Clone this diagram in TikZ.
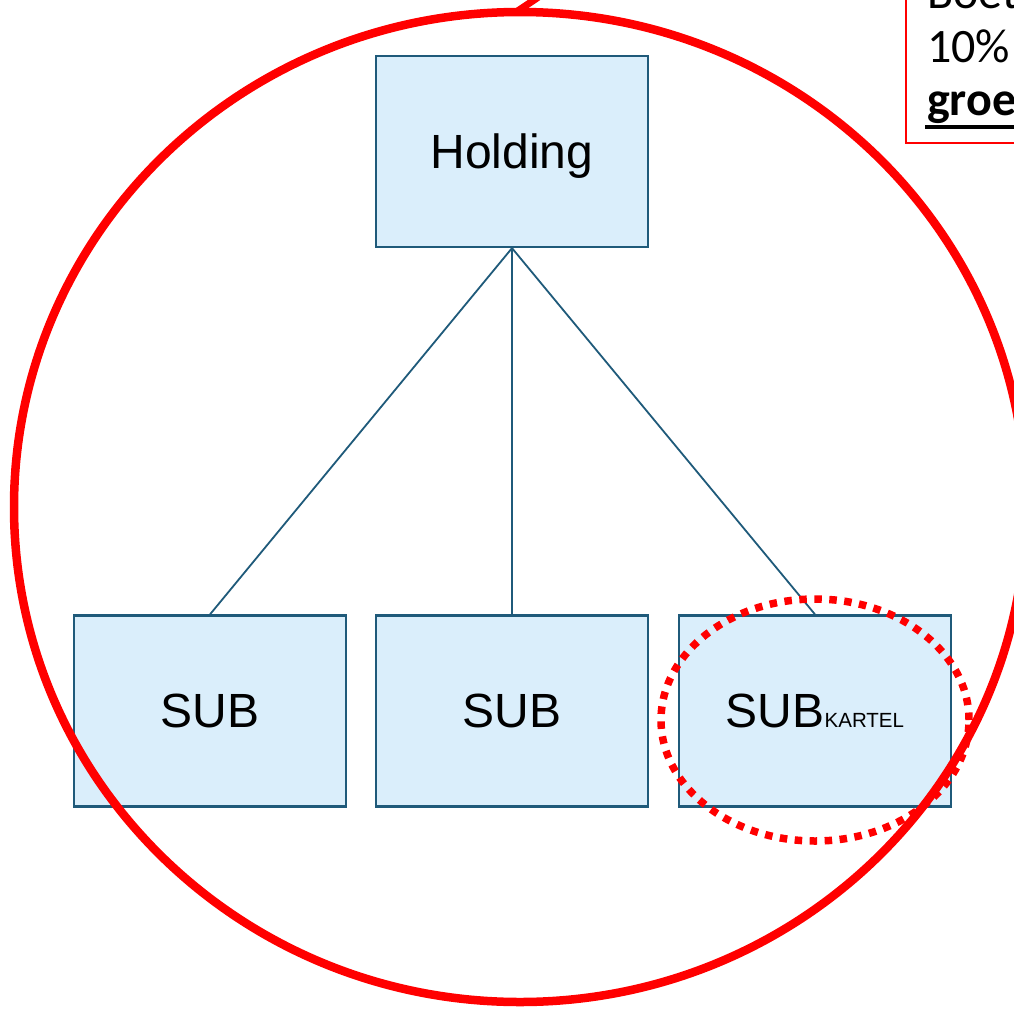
\documentclass[tikz,border=0pt]{standalone}
\usepackage{fontspec}
\usetikzlibrary{shapes.geometric}
\setmainfont{Liberation Sans}
\newfontfamily\calib{Carlito}
\definecolor{boxfill}{HTML}{DAEEFB}
\definecolor{boxline}{HTML}{1F5A7A}
\definecolor{redc}{HTML}{FF0000}
\begin{document}
\begin{tikzpicture}[x=1pt,y=-1pt,
  orgbox/.style={draw=boxline,fill=boxfill,line width=2.2pt,minimum width=272pt,minimum height=191pt,inner sep=0pt,text depth=0pt,font=\fontsize{48}{56}\selectfont},
  tie/.style={draw=boxline,line width=1.8pt},
  bigring/.style={draw=redc,line width=8.5pt},
  dotring/.style={draw=redc,line width=7.5pt,dash pattern=on 7.5pt off 7.5pt},
  note/.style={font=\calib\fontsize{48}{58}\selectfont,anchor=base west,inner sep=0pt}]
\useasboundingbox (0,0) rectangle (1014,1009);
\begin{scope}
\clip (0,0) rectangle (1014,1009);
% boxes
\node[orgbox] (hold) at (512,151.5) {Holding};
\node[orgbox] (s1) at (210,711) {SUB};
\node[orgbox] (s2) at (512,711) {SUB};
\node[orgbox] (s3) at (815,711) {SUB{\fontsize{20.5}{24}\selectfont KARTEL}};
% connectors
\draw[tie] (hold.south) -- (s1.north);
\draw[tie] (hold.south) -- (s2.north);
\draw[tie] (hold.south) -- (s3.north);
% big red ring
\node[bigring,ellipse,minimum width=1012pt,minimum height=990pt,inner sep=0pt] (ring) at (520,507) {};
\draw[dotring] (815,720) ellipse [x radius=154pt, y radius=121pt];
% callout box
\coordinate (calltip) at (552,-12);
\draw[redc,line width=7pt] (ring.north) ++(-2,3) -- (calltip);
\node[draw=redc,line width=2.2pt,minimum width=200pt,minimum height=200pt,anchor=south west,inner sep=0pt] (callbox) at (905,144) {};
\node[note] (t1) at (927,9) {Boet};
\node[note] (t2) at (927,62) {10\%};
\node[note] (t3) at (927,115) {\textbf{groe}};
\draw[line width=3.5pt] (925,127) -- (1020,127);
\end{scope}
\end{tikzpicture}
\end{document}
